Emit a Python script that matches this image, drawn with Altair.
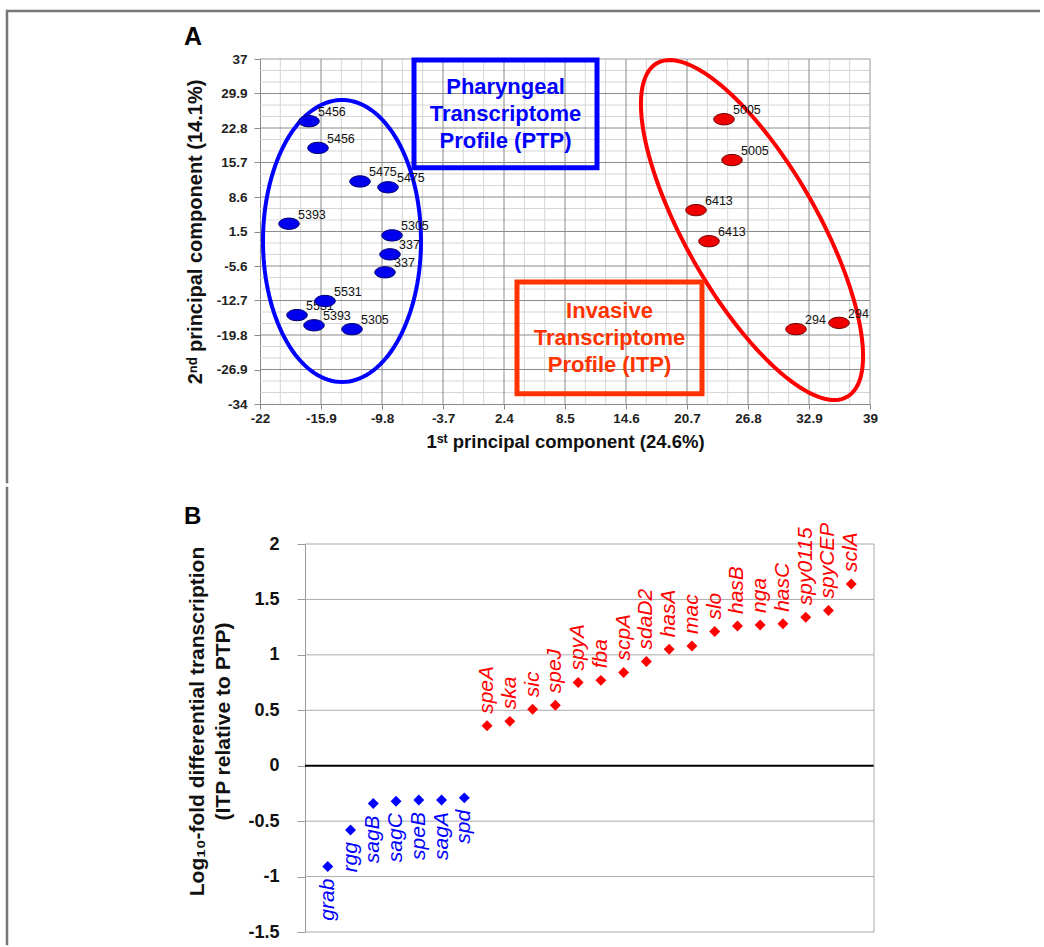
import altair as alt
import pandas as pd
import numpy as np

# ---------------- Panel A data ----------------
ptp_labels = ["5456", "5456", "5475", "5475", "5393", "5305", "337", "337", "5531", "5531", "5393", "5305"]
ptp_pc1 = [-17.1, -16.2, -12.0, -9.2, -19.1, -8.8, -9.0, -9.5, -15.5, -18.3, -16.6, -12.8]
ptp_pc2 = [24.2, 18.7, 11.8, 10.6, 3.1, 0.7, -3.2, -6.9, -12.8, -15.7, -17.8, -18.6]

itp_labels = ["5005", "5005", "6413", "6413", "294", "294"]
itp_pc1 = [24.4, 25.2, 21.6, 22.9, 31.6, 35.9]
itp_pc2 = [24.6, 16.2, 5.9, -0.5, -18.6, -17.3]

x_ticks = [-22, -15.9, -9.8, -3.7, 2.4, 8.5, 14.6, 20.7, 26.8, 32.9, 39]
y_ticks = [37, 29.9, 22.8, 15.7, 8.6, 1.5, -5.6, -12.7, -19.8, -26.9, -34]

# annotation geometry (data units)
ptp_box = dict(x=-6.6, x2=11.7, y=36.8, y2=14.6)
itp_box = dict(x=3.7, x2=22.2, y=-8.9, y2=-31.9)
ptp_text = ["Pharyngeal", "Transcriptome", "Profile (PTP)"]
itp_text = ["Invasive", "Transcriptome", "Profile (ITP)"]

# ---------------- Panel B data ----------------
genes_down = ["grab", "rgg", "sagB", "sagC", "speB", "sagA", "spd"]
log_down = [-0.91, -0.58, -0.34, -0.32, -0.31, -0.31, -0.29]
genes_up = ["speA", "ska", "sic", "speJ", "spyA", "fba", "scpA", "sdaD2", "hasA", "mac",
            "slo", "hasB", "nga", "hasC", "spy0115", "spyCEP", "sclA"]
log_up = [0.36, 0.40, 0.51, 0.545, 0.75, 0.77, 0.84, 0.94, 1.05, 1.08,
          1.21, 1.26, 1.27, 1.28, 1.34, 1.40, 1.64]
b_ticks = [2, 1.5, 1, 0.5, 0, -0.5, -1, -1.5]

# ---------------- layout constants ----------------
A_W, A_H = 610, 345
B_W, B_H = 614, 388
B_OFF = 45            # panel B's y axis sits this far right of panel A's
FONT = "Liberation Sans"

X_DOM = [x_ticks[0], x_ticks[-1]]
Y_DOM = [y_ticks[-1], y_ticks[0]]
px_per_x = A_W / (X_DOM[1] - X_DOM[0])
px_per_y = A_H / (Y_DOM[1] - Y_DOM[0])


def minor_vals(ticks, n=3):
    t = sorted(ticks)
    out = []
    for a, b in zip(t[:-1], t[1:]):
        for k in range(1, n):
            out.append(a + (b - a) * k / n)
    return out


def ellipse(cx, cy, a_px, b_px, tilt_deg, n=140):
    t = np.linspace(0, 2 * np.pi, n)
    th = np.deg2rad(tilt_deg)
    v = np.array([np.sin(th), np.cos(th)])      # major axis (screen, y down), tilt from vertical
    w = np.array([np.cos(th), -np.sin(th)])     # minor axis
    dx = a_px * np.cos(t) * v[0] + b_px * np.sin(t) * w[0]
    dy = a_px * np.cos(t) * v[1] + b_px * np.sin(t) * w[1]
    return pd.DataFrame({"x": cx + dx / px_per_x, "y": cy - dy / px_per_y, "i": np.arange(n)})


axA_x = alt.Axis(values=x_ticks, labelExpr="datum.value + ''", grid=False,
                 title="1ˢᵗ principal component (24.6%)", titleFontSize=18.5, titleFont=FONT,
                 titleFontWeight="bold", titleColor="#111", titlePadding=8, labelFont=FONT, labelFontSize=13.5,
                 labelFontWeight="bold", labelColor="#222", labelPadding=2, tickSize=5,
                 tickColor="#888", domainColor="#888", labelFlush=False)
axA_y = alt.Axis(values=y_ticks, labelExpr="datum.value + ''", grid=False,
                 title="2ⁿᵈ principal component (14.1%)", titleFontSize=20, titleFont=FONT,
                 titleFontWeight="bold", titleColor="#111", titlePadding=11, labelFont=FONT, labelFontSize=13.5,
                 labelFontWeight="bold", labelColor="#222", labelPadding=7, tickSize=6,
                 tickColor="#888", domainColor="#888", labelFlush=False)
scA_x = alt.Scale(domain=X_DOM, nice=False, zero=False)
scA_y = alt.Scale(domain=Y_DOM, nice=False, zero=False)


def AX(f):
    return alt.X(f, type="quantitative", scale=scA_x, axis=axA_x)


def AY(f):
    return alt.Y(f, type="quantitative", scale=scA_y, axis=axA_y)


one = pd.DataFrame({"k": [0]})

gx_minor = alt.Chart(pd.DataFrame({"x": minor_vals(x_ticks)})).mark_rule(color="#d6d6d6", strokeWidth=1).encode(x=AX("x"))
gy_minor = alt.Chart(pd.DataFrame({"y": minor_vals(y_ticks)})).mark_rule(color="#d6d6d6", strokeWidth=1).encode(y=AY("y"))
gx_major = alt.Chart(pd.DataFrame({"x": x_ticks[1:-1]})).mark_rule(color="#8a8a8a", strokeWidth=1).encode(x=AX("x"))
gy_major = alt.Chart(pd.DataFrame({"y": y_ticks[1:-1]})).mark_rule(color="#8a8a8a", strokeWidth=1).encode(y=AY("y"))
frameA_top = alt.Chart(one).mark_rule(color="#9a9a9a", strokeWidth=1).encode(
    x=alt.value(0), x2=alt.value(A_W), y=alt.value(0))
frameA_right = alt.Chart(one).mark_rule(color="#9a9a9a", strokeWidth=1).encode(
    x=alt.value(A_W), y=alt.value(0), y2=alt.value(A_H))

ell_blue = alt.Chart(ellipse(-13.8, -0.45, 141, 79, 0)).mark_line(color="#0000ff", strokeWidth=4).encode(
    x=AX("x"), y=AY("y"), order="i:Q")
ell_red = alt.Chart(ellipse(27.2, 1.8, 192, 66, 29.7)).mark_line(color="#ff0000", strokeWidth=4).encode(
    x=AX("x"), y=AY("y"), order="i:Q")

box_blue = alt.Chart(pd.DataFrame([ptp_box])).mark_rect(fillOpacity=0, stroke="#0000ff", strokeWidth=5).encode(
    x=AX("x"), x2="x2", y=AY("y"), y2="y2")
box_red = alt.Chart(pd.DataFrame([itp_box])).mark_rect(fillOpacity=0, stroke="#ff3300", strokeWidth=5).encode(
    x=AX("x"), x2="x2", y=AY("y"), y2="y2")

txt_blue = alt.Chart(pd.DataFrame({"x": [(ptp_box["x"] + ptp_box["x2"]) / 2], "y": [(ptp_box["y"] + ptp_box["y2"]) / 2]})).mark_text(
    text=ptp_text, font=FONT, fontSize=22, fontWeight="bold", color="#0000ff", lineHeight=27,
    align="center", baseline="middle", dy=-27).encode(x=AX("x"), y=AY("y"))
txt_red = alt.Chart(pd.DataFrame({"x": [(itp_box["x"] + itp_box["x2"]) / 2], "y": [(itp_box["y"] + itp_box["y2"]) / 2]})).mark_text(
    text=itp_text, font=FONT, fontSize=22, fontWeight="bold", color="#ff3300", lineHeight=27,
    align="center", baseline="middle", dy=-27).encode(x=AX("x"), y=AY("y"))

pts = pd.DataFrame({
    "x": ptp_pc1 + itp_pc1,
    "y": ptp_pc2 + itp_pc2,
    "lab": ptp_labels + itp_labels,
    "grp": ["PTP"] * len(ptp_pc1) + ["ITP"] * len(itp_pc1),
})
pt_labels = alt.Chart(pts).mark_text(font=FONT, fontSize=12.5, color="#111", align="left", baseline="middle",
                                     dx=9, dy=-9).encode(x=AX("x"), y=AY("y"), text="lab:N")
ELL = "M-1,0A1,0.55,0,1,0,1,0A1,0.55,0,1,0,-1,0Z"
pt_marks = alt.Chart(pts).mark_point(shape=ELL, size=420, filled=True, opacity=1, strokeWidth=1).encode(
    x=AX("x"), y=AY("y"),
    fill=alt.Fill("grp:N", scale=alt.Scale(domain=["PTP", "ITP"], range=["#0000ee", "#ee0000"]), legend=None),
    stroke=alt.Stroke("grp:N", scale=alt.Scale(domain=["PTP", "ITP"], range=["#000070", "#700000"]), legend=None))

lab_A = alt.Chart(one).mark_text(text="A", font=FONT, fontSize=25, fontWeight="bold", align="left",
                                  baseline="alphabetic").encode(x=alt.value(-76), y=alt.value(-14))
frame_top = alt.Chart(one).mark_rule(color="#777", strokeWidth=2.5).encode(
    x=alt.value(-253), x2=alt.value(780), y=alt.value(-48))
frame_left_A = alt.Chart(one).mark_rule(color="#777", strokeWidth=2.5, strokeCap="square").encode(
    x=alt.value(-253), y=alt.value(-48), y2=alt.value(423))

panelA = alt.layer(gx_minor, gy_minor, gx_major, gy_major, frameA_top, frameA_right, ell_blue, ell_red,
                   box_blue, box_red, txt_blue, txt_red, pt_labels, pt_marks, lab_A, frame_top,
                   frame_left_A).properties(width=A_W, height=A_H)

# ---------------- Panel B ----------------
genes_all = genes_down + genes_up
dfB = pd.DataFrame({
    "gene": genes_all,
    "val": log_down + log_up,
    "grp": ["down"] * len(genes_down) + ["up"] * len(genes_up),
})
axB_y = alt.Axis(values=b_ticks, labelExpr="datum.value + ''", grid=False, offset=-B_OFF,
                 title=["Log₁₀-fold differential transcription", "(ITP relative to PTP)"],
                 titleFontSize=21, titleFont=FONT, titleFontWeight="bold", titleLineHeight=26,
                 titleColor="#111", titlePadding=14, titleY=177, labelFont=FONT, labelFontSize=18,
                 labelFontWeight="bold", labelColor="#111", labelPadding=18, tickSize=8, tickColor="#999",
                 domainColor="#999", labelFlush=False)
scB_y = alt.Scale(domain=[b_ticks[-1], b_ticks[0]], nice=False, zero=False)
step = (B_W - B_OFF) / (len(genes_down) + len(genes_up) + 1)
BX = alt.X("gene:N", sort=genes_all,
           scale=alt.Scale(type="point", range=[B_OFF + step, B_W - step], padding=0), axis=None)


def BY(f):
    return alt.Y(f, type="quantitative", scale=scB_y, axis=axB_y)


gB = alt.Chart(pd.DataFrame({"v": [t for t in b_ticks if t != 0]})).mark_rule(color="#aaaaaa", strokeWidth=1).encode(
    y=BY("v"), x=alt.value(B_OFF), x2=alt.value(B_W))
zeroB = alt.Chart(pd.DataFrame({"v": [0]})).mark_rule(color="#000", strokeWidth=2).encode(
    y=BY("v"), x=alt.value(B_OFF), x2=alt.value(B_W))
frameB_right = alt.Chart(one).mark_rule(color="#aaaaaa", strokeWidth=1).encode(
    x=alt.value(B_W), y=alt.value(0), y2=alt.value(B_H))
diam = alt.Chart(dfB).mark_point(shape="diamond", filled=True, size=120, opacity=1).encode(
    x=BX, y=BY("val"),
    color=alt.Color("grp:N", scale=alt.Scale(domain=["down", "up"], range=["#0000ff", "#ff0000"]), legend=None))
lab_up = alt.Chart(dfB[dfB.grp == "up"]).mark_text(font=FONT, fontSize=21, fontStyle="italic", angle=270,
                                                    align="left", baseline="middle", dx=12, color="#ff0000").encode(
    x=BX, y=BY("val"), text="gene:N")
lab_down = alt.Chart(dfB[dfB.grp == "down"]).mark_text(font=FONT, fontSize=21, fontStyle="italic", angle=270,
                                                        align="right", baseline="middle", dx=-12, color="#0000ff").encode(
    x=BX, y=BY("val"), text="gene:N")
lab_B = alt.Chart(one).mark_text(text="B", font=FONT, fontSize=24, fontWeight="bold", align="left",
                                  baseline="alphabetic").encode(x=alt.value(-76), y=alt.value(-20))
frame_left_B = alt.Chart(one).mark_rule(color="#777", strokeWidth=2.5, strokeCap="square").encode(
    x=alt.value(-253), y=alt.value(-56), y2=alt.value(400))

panelB = alt.layer(gB, zeroB, frameB_right, diam, lab_up, lab_down, lab_B, frame_left_B).properties(
    width=B_W, height=B_H)

chart = alt.vconcat(panelA, panelB, spacing=0).configure_view(stroke="transparent").properties(
    padding={"left": 4, "top": 8, "right": 0, "bottom": 0}, background="white")

chart.save("out.html", embed_options={"renderer": "svg", "actions": False})
